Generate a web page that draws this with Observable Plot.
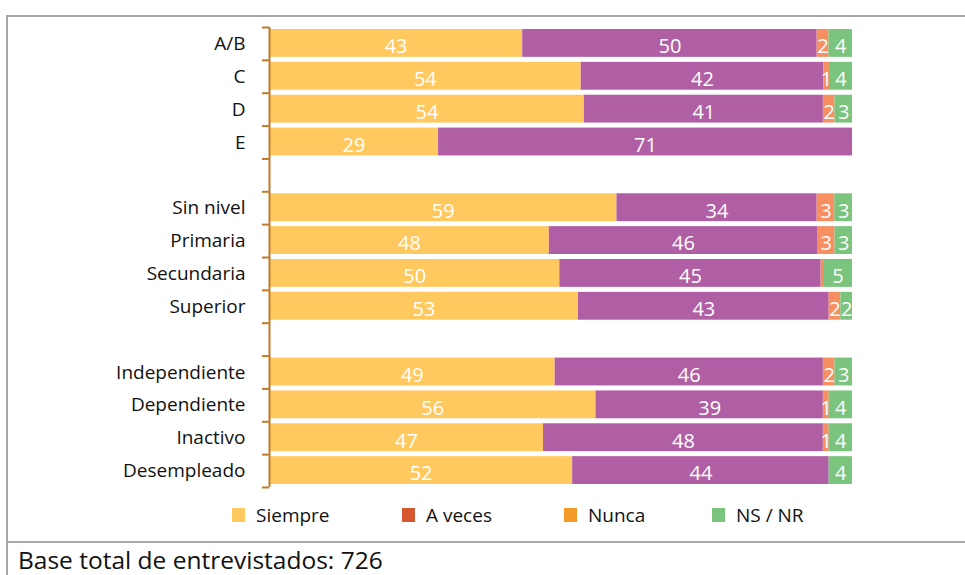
<!DOCTYPE html>
<html>
<head>
<meta charset="utf-8">
<script src="https://cdn.jsdelivr.net/npm/d3@7"></script>
<script src="https://cdn.jsdelivr.net/npm/@observablehq/plot@0.6"></script>
<style>
  html, body { margin: 0; padding: 0; background: #fff; }
  body { width: 965px; height: 575px; position: relative; overflow: hidden; font-family: "Open Sans", "Noto Sans", sans-serif; }
  #frame { position: absolute; left: 6px; top: 15px; width: 965px; height: 570px; border-left: 2px solid #a8a8a8; border-top: 2px solid #a8a8a8; box-sizing: border-box; }
  #sep { position: absolute; left: 6px; top: 541px; width: 965px; height: 0; border-top: 2px solid #a8a8a8; }
  #chart { position: absolute; left: 6px; top: 15px; }
  #legend { position: absolute; top: 504px; left: 0; width: 965px; height: 22px; font-size: 19px; color: #111; }
  .item { position: absolute; top: 0; display: flex; align-items: center; height: 22px; }
  .sw { width: 13px; height: 14px; margin-right: 11px; }
  #caption { position: absolute; left: 18px; top: 547px; font-size: 24.5px; line-height: 26px; color: #111; white-space: nowrap; }
</style>
</head>
<body>
<div id="frame"></div>
<div id="chart"></div>
<div id="legend"></div>
<div id="sep"></div>
<div id="caption"></div>
<script>
// Groups of categories (a blank row separates consecutive groups)
const groups = [
  ["A/B", "C", "D", "E"],
  ["Sin nivel", "Primaria", "Secundaria", "Superior"],
  ["Independiente", "Dependiente", "Inactivo", "Desempleado"]
];
const keys = ["Siempre", "A veces", "Nunca", "NS / NR"];
const siempre = [43, 54, 54, 29, 59, 48, 50, 53, 49, 56, 47, 52];
const aVeces  = [50, 42, 41, 71, 34, 46, 45, 43, 46, 39, 48, 44];
const nunca   = [2, 1, 2, 0, 3, 3, 0.4, 2, 2, 1, 1, 0];
const nsnr    = [4, 4, 3, 0, 3, 3, 5, 2, 3, 4, 4, 4];
const barColors = ["#FFC95F", "#B15FA5", "#F78F60", "#7AC47D"];
const legendColors = ["#FFC95F", "#D4572F", "#F49A27", "#7AC47D"];
const caption = "Base total de entrevistados: 726";

// Build row layout from groups
const categories = [];
const rowOf = new Map();
let r = 0;
groups.forEach((g, gi) => {
  if (gi > 0) r += 1;
  g.forEach(c => { categories.push(c); rowOf.set(c, r); r += 1; });
});
const nRows = r;

const series = [siempre, aVeces, nunca, nsnr];
const table = [];
keys.forEach((k, ki) => {
  categories.forEach((c, ci) => {
    table.push({category: c, key: k, value: series[ki][ci], row: rowOf.get(c)});
  });
});

const boundaries = d3.range(0, nRows + 1);
const centers = categories.map(c => rowOf.get(c) + 0.5);
const labelAt = new Map(categories.map(c => [rowOf.get(c) + 0.5, c]));

const axisColor = "#BF7A2B";

const chart = Plot.plot({
  width: 959,
  height: 480,
  marginLeft: 263,
  marginRight: 113,
  marginTop: 12,
  marginBottom: 8,
  style: {fontFamily: "'Open Sans', 'Noto Sans', sans-serif", background: "transparent"},
  x: {domain: [0, 1], axis: null},
  y: {domain: [0, nRows], reverse: true, label: null},
  color: {domain: keys, range: barColors},
  marks: [
    Plot.rectX(table, Plot.stackX({
      offset: "normalize",
      x: "value",
      y1: "row",
      y2: d => d.row + 1,
      z: "key",
      fill: "key",
      insetTop: 2,
      insetBottom: 3
    })),
    Plot.text(table, Plot.stackX({
      offset: "normalize",
      x: "value",
      y: d => d.row + 0.5,
      z: "key",
      text: d => d.value >= 1 ? String(Math.round(d.value)) : "",
      fill: "white",
      fontSize: 20,
      dy: 3
    })),
    Plot.axisY({
      ticks: boundaries,
      tickSize: 7,
      tickFormat: () => "",
      label: null,
      stroke: axisColor,
      strokeWidth: 2
    }),
    Plot.axisY({
      ticks: centers,
      tickSize: 0,
      tickPadding: 24,
      tickFormat: v => labelAt.get(v),
      label: null,
      fontSize: 19,
      fill: "#111"
    }),
    Plot.ruleX([0], {stroke: axisColor, strokeWidth: 2})
  ]
});
document.getElementById("chart").appendChild(chart);

// Legend
const legendX = [232, 402, 564, 712];
const legend = document.getElementById("legend");
keys.forEach((k, i) => {
  const it = document.createElement("div");
  it.className = "item";
  it.style.left = legendX[i] + "px";
  const sw = document.createElement("div");
  sw.className = "sw";
  sw.style.background = legendColors[i];
  const tx = document.createElement("span");
  tx.textContent = k;
  it.appendChild(sw);
  it.appendChild(tx);
  legend.appendChild(it);
});
document.getElementById("caption").textContent = caption;
</script>
</body>
</html>
